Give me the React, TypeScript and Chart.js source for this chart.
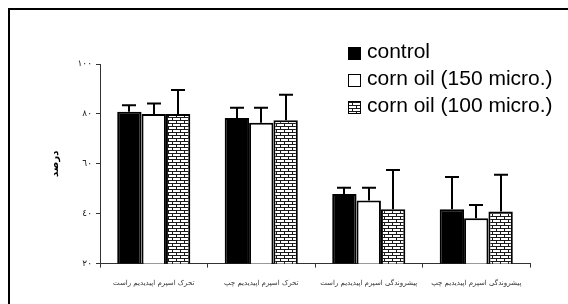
import React, { useEffect, useRef } from "react";
import { Chart, registerables } from "chart.js";

Chart.register(...registerables);

const categories = [
  "تحرک اسپرم اپیدیدیم راست",
  "تحرک اسپرم اپیدیدیم چپ",
  "پیشروندگی اسپرم اپیدیدیم راست",
  "پیشروندگی اسپرم اپیدیدیم چپ",
];
const seriesNames = ["control", "corn oil (150 micro.)", "corn oil (100 micro.)"];
const controlValues = [80.9, 78.4, 47.9, 41.8];
const corn150Values = [80.0, 76.5, 45.3, 38.2];
const corn100Values = [80.0, 77.5, 41.8, 40.9];
const controlErr = [2.6, 4.1, 2.5, 12.9];
const corn150Err = [4.2, 6.0, 5.1, 5.3];
const corn100Err = [9.6, 10.2, 15.7, 14.7];
const yTickValues = [20, 40, 60, 80, 100];
const yTickLabels = ["٢٠", "٤٠", "٦٠", "٨٠", "١٠٠"];
const yTitle = "درصد";

function makeBrickPattern(ctx: CanvasRenderingContext2D): CanvasPattern | string {
  const c = document.createElement("canvas");
  c.width = 8;
  c.height = 6;
  const p = c.getContext("2d");
  if (!p) return "#fff";
  p.fillStyle = "#ffffff";
  p.fillRect(0, 0, 8, 6);
  p.fillStyle = "#1a1a1a";
  p.fillRect(0, 0, 8, 1);
  p.fillRect(0, 3, 8, 1);
  p.fillRect(0, 1, 1, 2);
  p.fillRect(4, 4, 1, 2);
  return ctx.createPattern(c, "repeat") || "#fff";
}

const errorBarPlugin = {
  id: "errorBars",
  afterDatasetsDraw(chart: any) {
    const ctx = chart.ctx;
    const yScale = chart.scales.y;
    chart.data.datasets.forEach((ds: any, i: number) => {
      const meta = chart.getDatasetMeta(i);
      meta.data.forEach((bar: any, j: number) => {
        const v = ds.data[j];
        const e = ds.errors[j];
        const top = yScale.getPixelForValue(v + e);
        const x = Math.round(bar.x);
        ctx.save();
        ctx.strokeStyle = "#000";
        ctx.lineWidth = 2;
        ctx.beginPath();
        ctx.moveTo(x, bar.y);
        ctx.lineTo(x, top);
        ctx.moveTo(x - 7, top);
        ctx.lineTo(x + 7, top);
        ctx.stroke();
        ctx.restore();
      });
    });
  },
};

const legendPlugin = {
  id: "customLegend",
  afterDraw(chart: any) {
    const ctx = chart.ctx;
    const x0 = 348;
    const rows = [52, 79, 106];
    ctx.save();
    chart.data.datasets.forEach((ds: any, i: number) => {
      const cy = rows[i];
      ctx.fillStyle = ds.backgroundColor;
      ctx.fillRect(x0, cy - 5, 13, 13);
      ctx.strokeStyle = "#000";
      ctx.lineWidth = 1;
      ctx.strokeRect(x0 + 0.5, cy - 4.5, 12, 12);
      ctx.fillStyle = "#000";
      ctx.font = "21px 'Liberation Sans', Arial, sans-serif";
      ctx.textBaseline = "middle";
      ctx.textAlign = "left";
      ctx.fillText(ds.label, x0 + 19, cy);
    });
    ctx.restore();
  },
};

export default function App() {
  const canvasRef = useRef<HTMLCanvasElement | null>(null);

  useEffect(() => {
    const canvas = canvasRef.current;
    if (!canvas) return;
    const ctx = canvas.getContext("2d")!;
    const pattern = makeBrickPattern(ctx);
    const values = [controlValues, corn150Values, corn100Values];
    const errs = [controlErr, corn150Err, corn100Err];
    const fills: any[] = ["#000000", "#ffffff", pattern];
    const chart = new Chart(canvas, {
      type: "bar",
      data: {
        labels: categories,
        datasets: seriesNames.map((name, i) => ({
          label: name,
          data: values[i],
          errors: errs[i],
          backgroundColor: fills[i],
          borderColor: "#000",
          borderWidth: 2,
          categoryPercentage: 0.68,
          barPercentage: 1.0,
        })) as any,
      },
      options: {
        animation: false,
        responsive: false,
        maintainAspectRatio: false,
        layout: { padding: { left: 0, right: 38, top: 64, bottom: 0 } },
        plugins: {
          legend: { display: false },
          tooltip: { enabled: false },
        },
        scales: {
          x: {
            afterFit: (s: any) => {
              s.height = 40.4;
            },
            grid: {
              display: true,
              drawOnChartArea: false,
              drawTicks: true,
              tickLength: 4,
              color: "#333",
              offset: true,
            },
            border: { color: "#333", width: 1 },
            ticks: {
              font: { family: "'DejaVu Sans'", size: 7 },
              color: "#333",
              padding: 11,
              maxRotation: 0,
              autoSkip: false,
            },
          },
          y: {
            min: 20,
            max: 100,
            afterFit: (s: any) => {
              s.width = 100;
            },
            afterBuildTicks: (s: any) => {
              s.ticks = yTickValues.map((v) => ({ value: v }));
            },
            grid: {
              display: true,
              drawOnChartArea: false,
              drawTicks: true,
              tickLength: 4,
              color: "#333",
            },
            border: { color: "#333", width: 1 },
            ticks: {
              font: { family: "'DejaVu Sans'", size: 9 },
              color: "#222",
              padding: 4,
              callback: (v: any) => {
                const idx = yTickValues.indexOf(Number(v));
                return idx >= 0 ? yTickLabels[idx] : "";
              },
            },
            title: {
              display: true,
              text: yTitle,
              font: { family: "'DejaVu Sans'", size: 10, weight: "bold" },
              color: "#000",
              padding: { top: 49, bottom: 0 },
            },
          },
        },
      } as any,
      plugins: [errorBarPlugin, legendPlugin],
    });
    return () => chart.destroy();
  }, []);

  return (
    <div>
      <div
        style={{
          position: "fixed",
          left: 8,
          top: 8,
          width: 560,
          height: 296,
          borderLeft: "2px solid #000",
          borderTop: "2px solid #000",
          boxSizing: "border-box",
        }}
      />
      <canvas
        ref={canvasRef}
        width={568}
        height={304}
        style={{ position: "fixed", left: 0, top: 0, width: 568, height: 304 }}
      />
    </div>
  );
}
